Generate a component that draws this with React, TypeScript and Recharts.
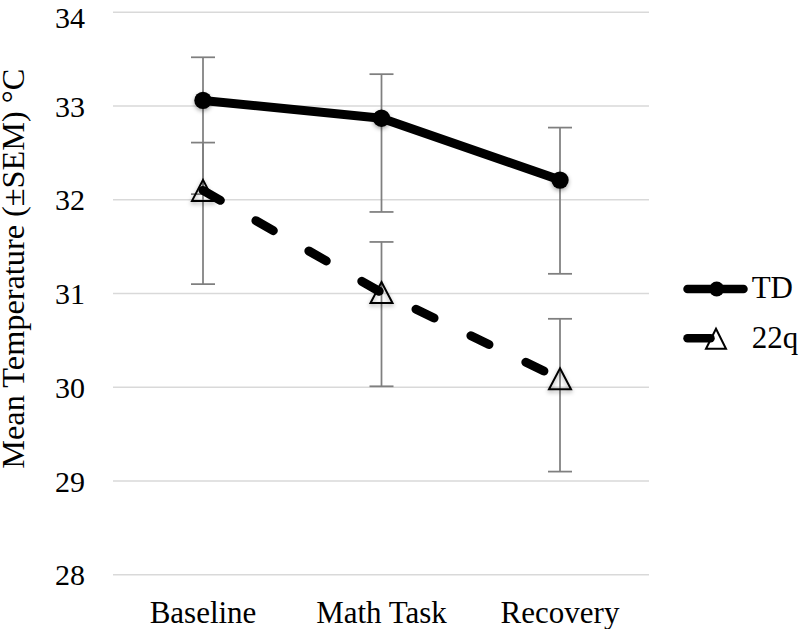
import React from 'react';
import { LineChart, Line, XAxis, YAxis, CartesianGrid, ErrorBar, Legend } from 'recharts';

const categories = ['Baseline', 'Math Task', 'Recovery'];
const tdMean = [33.06, 32.87, 32.21];
const tdErrUp = [0.46, 0.47, 0.56];
const tdErrDown = [1.0, 1.0, 1.0];
const q22Mean = [32.1, 31.01, 30.09];
const q22ErrUp = [0.51, 0.54, 0.64];
const q22ErrDown = [1.0, 1.0, 0.99];
const yTicks = [28, 29, 30, 31, 32, 33, 34];
const seriesNames = ['TD', '22q'];
const yAxisTitle = 'Mean Temperature (±SEM) °C';

const data = categories.map((c, i) => ({
  category: c,
  td: tdMean[i],
  tdErr: [tdErrDown[i], tdErrUp[i]],
  q22: q22Mean[i],
  q22Err: [q22ErrDown[i], q22ErrUp[i]],
}));

const FONT = 'Liberation Serif';
const SHADOW = 'drop-shadow(0px 2px 2px rgba(0,0,0,0.35))';

const CircleDot = (props: any) => {
  const { cx, cy, index } = props;
  if (cx == null || cy == null) return <g key={`td-${index}`} />;
  return <circle key={`td-${index}`} cx={cx} cy={cy} r={8.7} fill="#000" stroke="none" style={{ filter: SHADOW }} />;
};

const TriangleDot = (props: any) => {
  const { cx, cy, index } = props;
  if (cx == null || cy == null) return <g key={`q-${index}`} />;
  const d = `M${cx},${cy - 10.5} L${cx + 11},${cy + 10.5} L${cx - 11},${cy + 10.5} Z`;
  return <path key={`q-${index}`} d={d} fill="none" stroke="#000" strokeWidth={2} style={{ filter: SHADOW }} />;
};

const renderYTitle = () => (
  <text
    transform="translate(23.5, 268.7) rotate(-90)"
    x={0}
    y={0}
    textAnchor="middle"
    fontFamily={FONT}
    fontSize={31}
    fill="#000"
    textLength={400}
    lengthAdjust="spacingAndGlyphs"
  >
    {yAxisTitle}
  </text>
);

const renderLegend = () => (
  <svg width={125} height={100} style={{ display: 'block', overflow: 'visible' }}>
    <line x1={12.5} y1={29} x2={68.5} y2={29} stroke="#000" strokeWidth={8.5} strokeLinecap="round" />
    <circle cx={41.7} cy={29} r={7.5} fill="#000" />
    <text x={76.7} y={38.3} fontFamily={FONT} fontSize={31} fill="#000">{seriesNames[0]}</text>
    <line x1={12.5} y1={78.3} x2={35.5} y2={78.3} stroke="#000" strokeWidth={8.5} strokeLinecap="round" />
    <path d="M41,68.7 L51,88.7 L31,88.7 Z" fill="none" stroke="#000" strokeWidth={2} />
    <text x={76.7} y={88} fontFamily={FONT} fontSize={31} fill="#000">{seriesNames[1]}</text>
  </svg>
);

export default function App() {
  return (
    <div style={{ width: 800, height: 629, background: '#fff' }}>
      <style>{'body{margin:0} .recharts-surface{overflow:visible}'}</style>
      <LineChart
        width={800}
        height={629}
        data={data}
        margin={{ top: 12.3, right: 151, bottom: 0, left: 0 }}
      >
        <CartesianGrid horizontal vertical={false} stroke="#d9d9d9" strokeWidth={1.5} />
        <XAxis
          dataKey="category"
          type="category"
          padding={{ left: 90, right: 89 }}
          height={54.3}
          axisLine={false}
          tickLine={false}
          tickSize={0}
          tickMargin={26}
          interval={0}
          tick={{ fill: '#000', fontSize: 31, fontFamily: FONT }}
        />
        <YAxis
          type="number"
          domain={[28, 34]}
          ticks={yTicks}
          width={113}
          axisLine={false}
          tickLine={false}
          tickSize={0}
          tickMargin={28}
          tick={{ fill: '#000', fontSize: 30, fontFamily: FONT }}
          label={renderYTitle}
        />
        <Legend
          layout="vertical"
          align="center"
          verticalAlign="middle"
          wrapperStyle={{ left: 675, top: 260, width: 125, height: 100 }}
          content={renderLegend}
        />
        <Line
          type="linear"
          dataKey="td"
          name={seriesNames[0]}
          stroke="#000"
          strokeWidth={9}
          strokeLinecap="round"
          strokeLinejoin="round"
          dot={CircleDot}
          activeDot={false}
          isAnimationActive={false}
        >
          <ErrorBar dataKey="tdErr" direction="y" width={12} stroke="#7f7f7f" strokeWidth={1.75} isAnimationActive={false} />
        </Line>
        <Line
          type="linear"
          dataKey="q22"
          name={seriesNames[1]}
          stroke="#000"
          strokeWidth={9}
          strokeDasharray="20 41"
          strokeLinecap="round"
          strokeLinejoin="round"
          dot={TriangleDot}
          activeDot={false}
          isAnimationActive={false}
        >
          <ErrorBar dataKey="q22Err" direction="y" width={12} stroke="#7f7f7f" strokeWidth={1.75} isAnimationActive={false} />
        </Line>
      </LineChart>
    </div>
  );
}
